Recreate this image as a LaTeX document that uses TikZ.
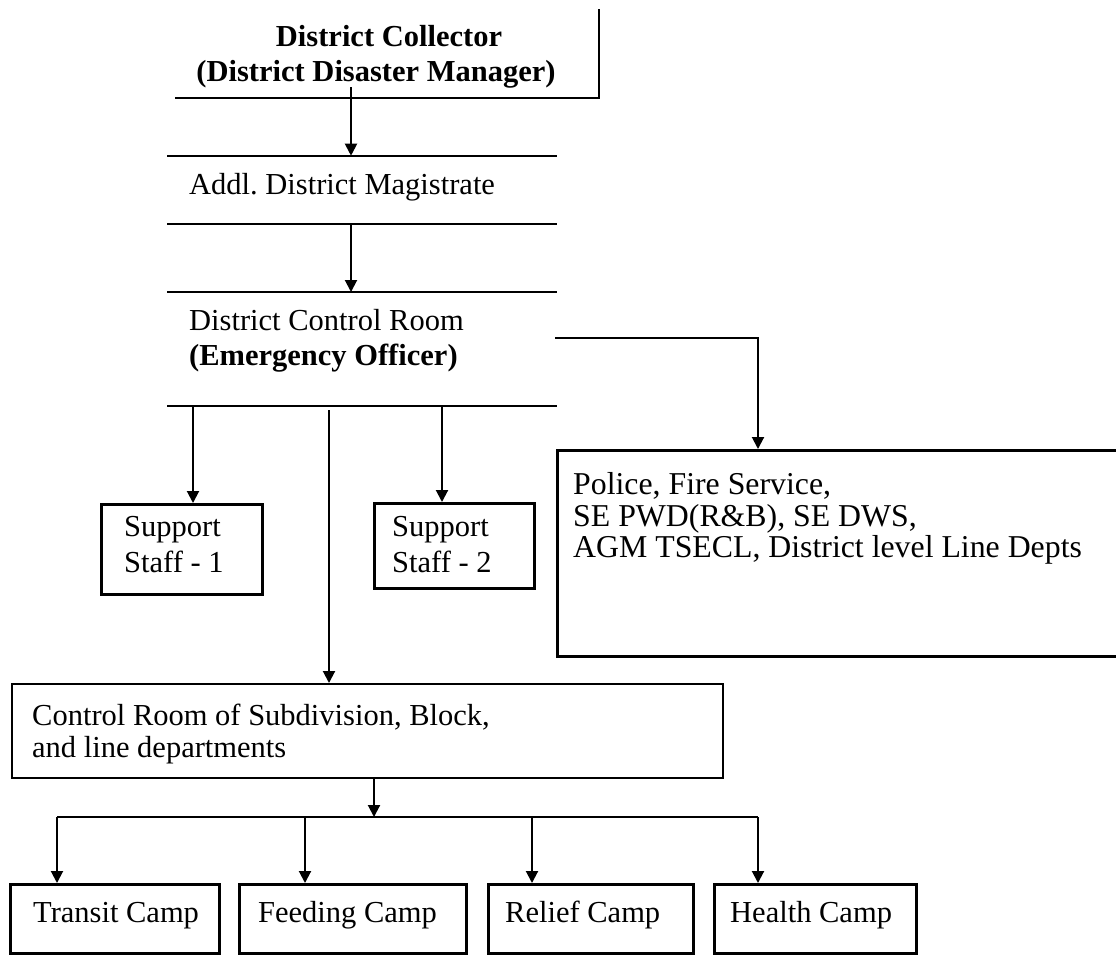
\documentclass[tikz,border=0pt]{standalone}
\usepackage{fontspec}
\setmainfont{Liberation Serif}
\usetikzlibrary{arrows.meta}
\begin{document}
\frenchspacing
\begin{tikzpicture}[x=1pt,y=-1pt,
  txt/.style={inner sep=0pt, anchor=base west, font=\fontsize{30.5}{34}\selectfont},
  btxt/.style={txt, font=\fontsize{30.5}{34}\selectfont\bfseries},
  ptxt/.style={txt, font=\fontsize{31.8}{34}\selectfont},
  bar/.style={line width=2pt},
  conn/.style={line width=2pt, -{Triangle[width=12pt,length=12pt]}},
  box/.style={draw, line width=3.3pt, anchor=north west, inner sep=0pt},
  thinbox/.style={draw, line width=2pt, anchor=north west, inner sep=0pt}]
\useasboundingbox[fill=white] (0,0) rectangle (1116,954);

% header bands
\coordinate (b1w) at (175,97.7);
\coordinate (b1e) at (599,97.7);
\coordinate (b1n) at (599,9);
\draw[bar] (b1w) -- (b1e) -- (b1n);
\foreach \y/\n in {155.7/b2,224/b3,292/b4,406/b5}{
  \coordinate (\n w) at (167,\y);
  \coordinate (\n e) at (557,\y);
  \draw[bar] (\n w) -- (\n e);
}

% texts of bands
\node[btxt, anchor=base] (dc1) at (389,46.5) {District Collector};
\node[btxt, anchor=base] (dc2) at (376,81) {(District Disaster Manager)};
\node[txt] (adm) at (189,194) {Addl.\ District Magistrate};
\node[txt] (dcr1) at (189,330) {District Control Room};
\node[btxt] (dcr2) at (189,365) {(Emergency Officer)};

% boxes
\node[box, minimum width=161pt, minimum height=90pt] (ss1) at (100,503) {};
\node[box, minimum width=160pt, minimum height=85pt] (ss2) at (373,502) {};
\node[box, minimum width=600pt, minimum height=206pt] (police) at (556,449) {};
\node[thinbox, minimum width=711pt, minimum height=94pt] (ctrl) at (11,683) {};
\node[box, minimum width=209pt, minimum height=69pt] (transit) at (9,883) {};
\node[box, minimum width=227pt, minimum height=69pt] (feeding) at (238,883) {};
\node[box, minimum width=205pt, minimum height=69pt] (relief) at (487,883) {};
\node[box, minimum width=202pt, minimum height=69pt] (health) at (713,883) {};

% box texts
\node[txt] (ss1a) at (124,536) {Support};
\node[txt] (ss1b) at (124,572) {Staff - 1};
\node[txt] (ss2a) at (392,536) {Support};
\node[txt] (ss2b) at (392,572) {Staff - 2};
\node[ptxt] (pol1) at (573,494) {Police, Fire Service,};
\node[ptxt] (pol2) at (573,526) {SE PWD(R\&B), SE DWS,};
\node[ptxt] (pol3) at (573,557) {AGM TSECL, District level Line Depts};
\node[txt] (ctl1) at (32,725) {Control Room of Subdivision, Block,};
\node[txt] (ctl2) at (32,757) {and line departments};
\node[txt] (tc) at (33,922) {Transit Camp};
\node[txt] (fc) at (258,922) {Feeding Camp};
\node[txt] (rc) at (505,922) {Relief Camp};
\node[txt] (hc) at (730,922) {Health Camp};

% connectors
\coordinate (dcout) at (351,87);
\draw[conn] (dcout) -- (dcout |- b2w);
\coordinate (admout) at (351,224);
\draw[conn] (admout) -- (admout |- b4w);
\coordinate (s1x) at (193,406);
\draw[conn] (s1x) -- (s1x |- ss1.north);
\coordinate (s2x) at (442,406);
\draw[conn] (s2x) -- (s2x |- ss2.north);
\coordinate (cx) at (329,410);
\draw[conn] (cx) -- (cx |- ctrl.north);
\coordinate (dcrout) at (555,338);
\coordinate (px) at (758,0);
\draw[conn] (dcrout) -| (px |- police.north);

\coordinate (cdown) at (374,0);
\coordinate (busw) at (57,817);
\coordinate (buse) at (758,817);
\draw[conn] (cdown |- ctrl.south) -- (cdown |- busw);
\draw[bar] (busw) -- (buse);
\coordinate (fx) at (305,817);
\coordinate (rx) at (532,817);
\draw[conn] (busw) -- (busw |- transit.north);
\draw[conn] (fx) -- (fx |- feeding.north);
\draw[conn] (rx) -- (rx |- relief.north);
\draw[conn] (buse) -- (buse |- health.north);
\end{tikzpicture}
\end{document}
